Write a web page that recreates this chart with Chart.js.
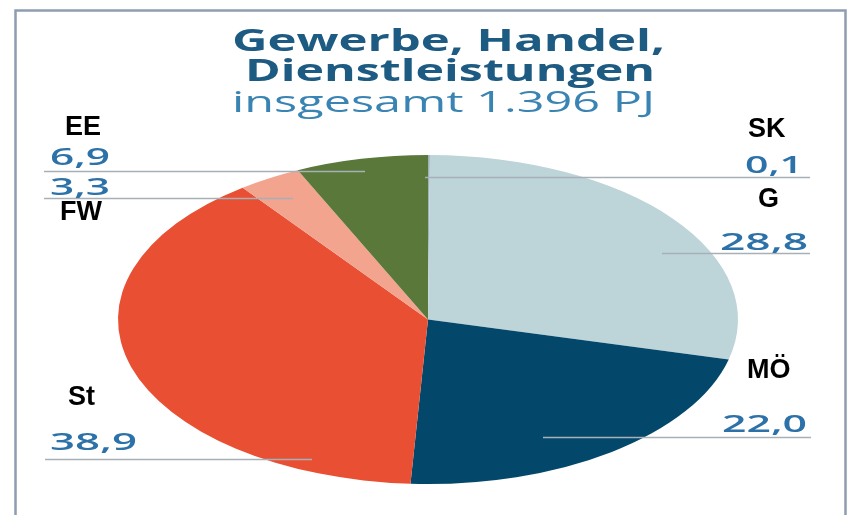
<!DOCTYPE html>
<html><head><meta charset="utf-8">
<script src="https://cdn.jsdelivr.net/npm/chart.js@4.4.1/dist/chart.umd.min.js"></script>
<style>html,body{margin:0;padding:0;background:#fff;}canvas{display:block;}</style>
</head><body>
<canvas id="c" width="852" height="515"></canvas>
<script>
// ---- data ----
const titleLines = ['Gewerbe, Handel,', 'Dienstleistungen'];
const subtitleText = 'insgesamt 1.396 PJ';
const categories = ['SK', 'G', 'MÖ', 'St', 'FW', 'EE'];
const shares = [0.1, 28.8, 22.0, 38.9, 3.3, 6.9];
const sliceColors = ['#9fb1bb', '#bdd4d8', '#03486a', '#e94f32', '#f2a48f', '#5a783a'];

// ---- layout (positions only) ----
const W = 852, H = 515;
const PIE_CX = 428, PIE_CY = 319.5, PIE_RY = 164.5, PIE_RX = 310;
// per category: label (left x, baseline), value (anchor x, baseline, width, align), leader line (x1, x2, y)
const layoutPos = [
  { lx: 748, ly: 137, vx: 803, vy: 173, vw: 58, va: 'right', l: [425, 810, 177] },
  { lx: 758, ly: 207, vx: 808, vy: 250, vw: 88, va: 'right', l: [662, 810, 253] },
  { lx: 747, ly: 378, vx: 807, vy: 432, vw: 85, va: 'right', l: [543, 811, 437] },
  { lx: 68,  ly: 405, vx: 50,  vy: 450, vw: 87, va: 'left',  l: [45, 312, 459] },
  { lx: 60,  ly: 220, vx: 50,  vy: 195, vw: 60, va: 'left',  l: [44, 293, 198] },
  { lx: 65,  ly: 135, vx: 50,  vy: 165, vw: 60, va: 'left',  l: [44, 365, 171] }
];
const titleLayout = [
  { y: 51, x1: 232, x2: 665 },
  { y: 81, x1: 245, x2: 655 }
];
const subLayout = { y: 112, x1: 232, x2: 655 };

function fmt(v) { return v.toFixed(1).replace('.', ','); }

function stretchText(ctx, text, x, y, width, align) {
  const w = ctx.measureText(text).width;
  const s = width / w;
  const left = align === 'left' ? x : (align === 'right' ? x - width : x - width / 2);
  ctx.save();
  ctx.translate(left, y);
  ctx.scale(s, 1);
  ctx.textAlign = 'left';
  ctx.textBaseline = 'alphabetic';
  ctx.fillText(text, 0, 0);
  ctx.restore();
}

const ellipsePlugin = {
  id: 'ellipse',
  beforeDatasetsDraw(chart) {
    const arc = chart.getDatasetMeta(0).data[0];
    const c = chart.ctx;
    c.save();
    c.translate(arc.x, 0);
    c.scale(PIE_RX / arc.outerRadius, 1);
    c.translate(-arc.x, 0);
  },
  afterDatasetsDraw(chart) { chart.ctx.restore(); }
};

const annotPlugin = {
  id: 'annot',
  afterDraw(chart) {
    const c = chart.ctx;
    c.save();
    // frame
    c.strokeStyle = '#8e9db0';
    c.lineWidth = 2.5;
    c.beginPath();
    c.moveTo(15.5, H); c.lineTo(15.5, 10.5); c.lineTo(845.5, 10.5); c.lineTo(845.5, H);
    c.stroke();
    // title
    c.fillStyle = '#1d5b82';
    c.font = 'bold 30px "Open Sans", "DejaVu Sans", sans-serif';
    titleLines.forEach((t, i) => {
      const L = titleLayout[i];
      stretchText(c, t, L.x1, L.y, L.x2 - L.x1, 'left');
    });
    c.fillStyle = '#3a84b3';
    c.font = '500 30px "Open Sans", "DejaVu Sans", sans-serif';
    stretchText(c, subtitleText, subLayout.x1, subLayout.y, subLayout.x2 - subLayout.x1, 'left');
    // leader lines
    c.strokeStyle = '#a7afb7';
    c.lineWidth = 1.5;
    layoutPos.forEach(p => {
      c.beginPath();
      c.moveTo(p.l[0], p.l[2] + 0.5);
      c.lineTo(p.l[1], p.l[2] + 0.5);
      c.stroke();
    });
    // values
    c.fillStyle = '#2c71a8';
    c.font = '600 24px "Open Sans", "DejaVu Sans", sans-serif';
    shares.forEach((v, i) => {
      const p = layoutPos[i];
      stretchText(c, fmt(v), p.vx, p.vy, p.vw, p.va);
    });
    // category labels
    c.fillStyle = '#000';
    c.font = 'bold 27px "Liberation Sans", Arial, sans-serif';
    c.textAlign = 'left';
    c.textBaseline = 'alphabetic';
    categories.forEach((t, i) => {
      const p = layoutPos[i];
      c.fillText(t, p.lx, p.ly);
    });
    c.restore();
  }
};

new Chart(document.getElementById('c'), {
  type: 'pie',
  data: {
    labels: categories,
    datasets: [{
      data: shares,
      backgroundColor: sliceColors,
      borderWidth: 0,
      hoverOffset: 0,
      clip: false
    }]
  },
  options: {
    responsive: false,
    animation: false,
    devicePixelRatio: 1,
    events: [],
    layout: {
      padding: {
        left: PIE_CX - PIE_RY,
        right: W - PIE_CX - PIE_RY,
        top: PIE_CY - PIE_RY,
        bottom: H - PIE_CY - PIE_RY
      }
    },
    plugins: { legend: { display: false }, tooltip: { enabled: false }, title: { display: false } }
  },
  plugins: [ellipsePlugin, annotPlugin]
});
</script>
</body></html>
